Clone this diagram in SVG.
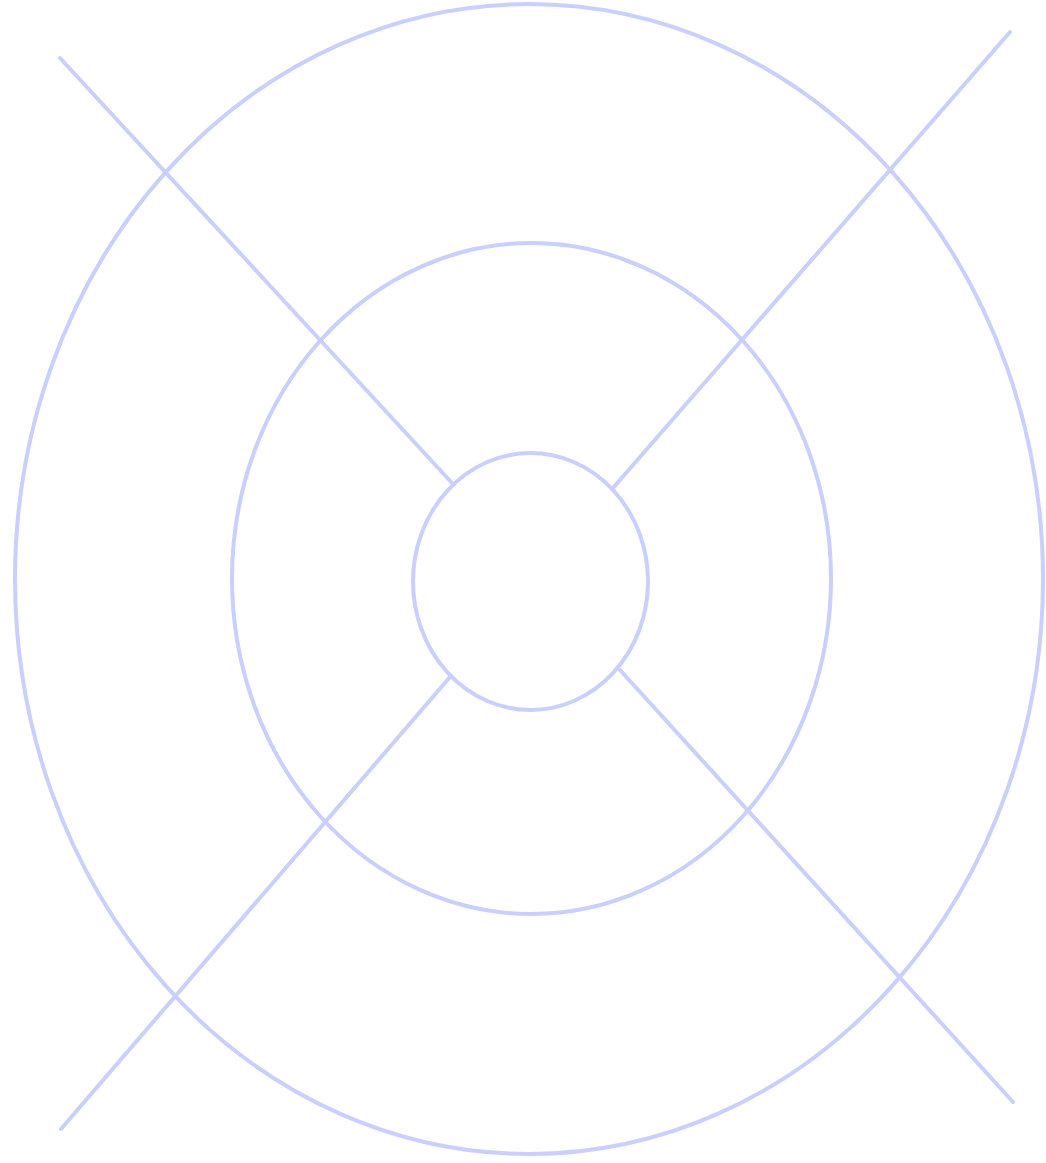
<svg xmlns="http://www.w3.org/2000/svg" width="1046" height="1163" viewBox="0 0 1046 1163">
<style>
.s{fill:none;stroke:#c9cfff;stroke-width:4;stroke-linecap:round}
</style>
<rect width="1046" height="1163" fill="#ffffff"/>
<g id="rings">
<ellipse id="outer" class="s" cx="529" cy="579" rx="514" ry="575"/>
<ellipse id="middle" class="s" cx="531.5" cy="578.5" rx="299.5" ry="335.5"/>
<ellipse id="inner" class="s" cx="530.5" cy="581.5" rx="117.5" ry="128.5"/>
</g>
<g id="connectors">
<line class="s" x1="60" y1="58" x2="452" y2="483"/>
<line class="s" x1="1010" y1="32" x2="613" y2="488"/>
<line class="s" x1="61" y1="1129" x2="450" y2="677"/>
<line class="s" x1="1013" y1="1102" x2="620" y2="670"/>
</g>
</svg>
